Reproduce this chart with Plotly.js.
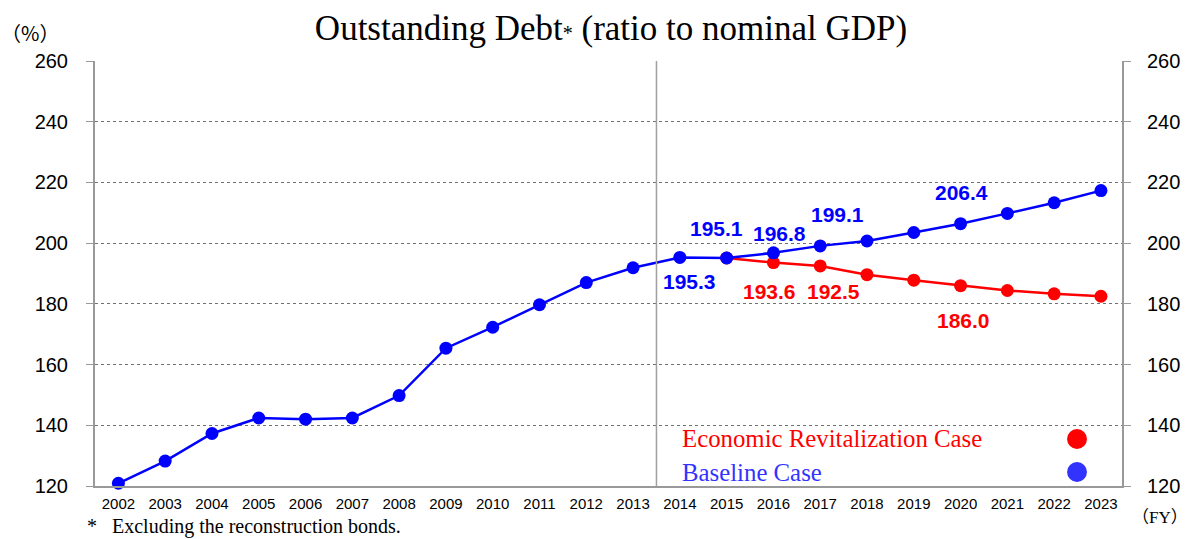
<!DOCTYPE html>
<html>
<head>
<meta charset="utf-8">
<script src="https://cdn.plot.ly/plotly-3.0.1.min.js"></script>
<style>html,body{margin:0;padding:0;background:#fff;}#chart{width:1192px;height:539px;}</style>
</head>
<body>
<div id="chart"></div>
<script>
// ---- data ----
var years = [2002,2003,2004,2005,2006,2007,2008,2009,2010,2011,2012,2013,2014,2015,2016,2017,2018,2019,2020,2021,2022,2023];
var baseline = [120.9,128.2,137.3,142.4,142.0,142.4,149.8,165.4,172.3,179.7,187.0,191.9,195.3,195.1,196.8,199.1,200.7,203.5,206.4,209.8,213.3,217.3];
var revitYears = [2015,2016,2017,2018,2019,2020,2021,2022,2023];
var revitalization = [195.1,193.6,192.5,189.6,187.8,186.0,184.4,183.3,182.5];
var yTicks = [120,140,160,180,200,220,240,260];
var baseLabelYears = [2014,2015,2016,2017,2020];
var revitLabelYears = [2016,2017,2020];

var BLUE = '#0000ff', RED = '#ff0000';

var traces = [
  {x: revitYears, y: revitalization, type:'scatter', mode:'lines+markers',
   line:{color:RED, width:2.5}, marker:{color:RED, size:13}, cliponaxis:false, hoverinfo:'skip'},
  {x: years, y: baseline, type:'scatter', mode:'lines+markers',
   line:{color:BLUE, width:2.5}, marker:{color:BLUE, size:13}, cliponaxis:false, hoverinfo:'skip'},
  {x: [years[0]], y: [baseline[0]], yaxis:'y2', type:'scatter', mode:'markers',
   marker:{opacity:0}, hoverinfo:'skip'}
];

// label offsets (pixels)
var baseOff = {2014:[10,-24], 2015:[-10,30], 2016:[6,19], 2017:[17,31], 2020:[1,31]};
var revOff = {2016:[-4,-29], 2017:[13,-26], 2020:[3,-35]};
var labelFont = 'Liberation Sans, Arial, sans-serif';
var annotations = [];
baseLabelYears.forEach(function(yr){
  var v = baseline[years.indexOf(yr)];
  annotations.push({x:yr, y:v, xref:'x', yref:'y', text:v.toFixed(1), showarrow:false,
    xshift:baseOff[yr][0], yshift:baseOff[yr][1],
    font:{family:labelFont, size:21, color:BLUE, weight:'bold'}});
});
revitLabelYears.forEach(function(yr){
  var v = revitalization[revitYears.indexOf(yr)];
  annotations.push({x:yr, y:v, xref:'x', yref:'y', text:v.toFixed(1), showarrow:false,
    xshift:revOff[yr][0], yshift:revOff[yr][1],
    font:{family:labelFont, size:21, color:RED, weight:'bold'}});
});
// legend texts
annotations.push({xref:'paper', yref:'paper', x:0.5697, y:0.1106, xanchor:'left', yanchor:'middle',
  text:'Economic Revitalization Case', showarrow:false,
  font:{family:'Liberation Serif, Times New Roman, serif', size:24.8, color:RED}});
annotations.push({xref:'paper', yref:'paper', x:0.5697, y:0.0329, xanchor:'left', yanchor:'middle',
  text:'Baseline Case', showarrow:false,
  font:{family:'Liberation Serif, Times New Roman, serif', size:24.8, color:'#3333ff'}});
// unit labels and footnote
annotations.push({xref:'paper', yref:'paper', x:-0.0935, y:1.066, xanchor:'left', yanchor:'middle',
  text:'（%）', showarrow:false,
  font:{family:'Noto Sans CJK JP, sans-serif', size:20, color:'#000'}});
annotations.push({xref:'paper', yref:'paper', x:1.066, y:-0.075, xanchor:'right', yanchor:'middle',
  text:'（FY）', showarrow:false,
  font:{family:'Liberation Serif, Noto Sans CJK JP, serif', size:17, color:'#000'}});
annotations.push({xref:'paper', yref:'paper', x:-0.0097, y:-0.096, xanchor:'left', yanchor:'middle',
  text:'*   Excluding the reconstruction bonds.', showarrow:false,
  font:{family:'Liberation Serif, Times New Roman, serif', size:20, color:'#000'}});

var shapes = [
  {type:'line', xref:'x', yref:'paper', x0:2013.5, x1:2013.5, y0:0, y1:1,
   line:{color:'#a0a0a0', width:1.5}},
  {type:'circle', xref:'paper', yref:'paper', x0:0.9562-0.0097, x1:0.9562+0.0097,
   y0:0.1106-0.0235, y1:0.1106+0.0235, fillcolor:RED, line:{width:0}},
  {type:'circle', xref:'paper', yref:'paper', x0:0.9562-0.0097, x1:0.9562+0.0097,
   y0:0.0329-0.0235, y1:0.0329+0.0235, fillcolor:'#3333ff', line:{width:0}}
];

var yCommon = {
  range:[120,260], tickvals:yTicks, ticks:'outside', ticklen:7, tickcolor:'#999',
  showline:true, linecolor:'#999', linewidth:2, zeroline:false,
  tickfont:{family:'Liberation Sans, Arial, sans-serif', size:20, color:'#000'},
  fixedrange:true
};

var layout = {
  width:1192, height:539,
  margin:{l:95, r:70, t:61, b:53},
  paper_bgcolor:'#fff', plot_bgcolor:'#fff',
  showlegend:false,
  title:{text:'Outstanding Debt<span style="font-size:20px">*</span> (ratio to nominal GDP)',
    x:0.5126, xanchor:'center', xref:'container', y:0.948, yanchor:'middle', yref:'container',
    font:{family:'Liberation Serif, Times New Roman, serif', size:35, color:'#000'}},
  xaxis:{range:[2001.5,2023.45], tickvals:years, ticktext:years.map(String), ticks:'',
    showgrid:false, showline:true, linecolor:'#999', linewidth:2, zeroline:false,
    ticklabelstandoff:3,
    tickfont:{family:'Liberation Sans, Arial, sans-serif', size:15, color:'#000'}, fixedrange:true},
  yaxis:Object.assign({}, yCommon, {side:'left', showgrid:true, gridcolor:'#707070', gridwidth:1, griddash:'dot',
    ticklabelstandoff:14}),
  yaxis2:Object.assign({}, yCommon, {side:'right', overlaying:'y', anchor:'x', showgrid:false,
    ticklabelstandoff:12}),
  annotations:annotations,
  shapes:shapes
};

Plotly.newPlot('chart', traces, layout, {staticPlot:true, displayModeBar:false});
</script>
</body>
</html>
